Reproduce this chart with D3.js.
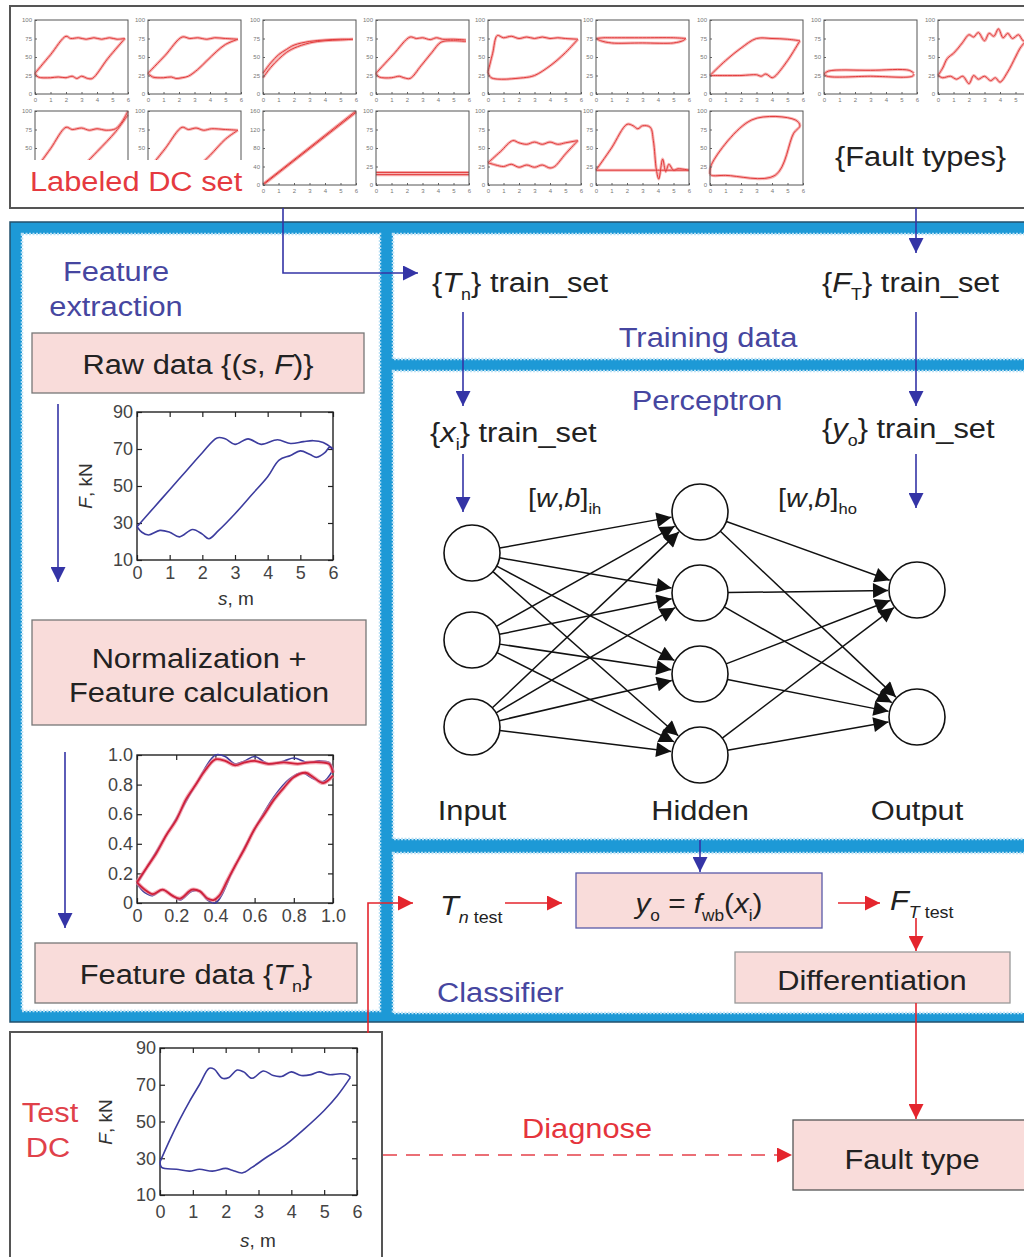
<!DOCTYPE html>
<html>
<head>
<meta charset="utf-8">
<script src="https://cdn.jsdelivr.net/npm/d3@7"></script>
<style>
  body { margin: 0; background: #fff; }
  svg { display: block; font-family: "Liberation Sans", Arial, sans-serif; }
</style>
</head>
<body>
<svg id="chart" width="1024" height="1257"></svg>
<script>
// ---- data ----
// raw drilling cycle (s in m, F in kN)
var rawUpper = [[0,28],[0.5,38],[1,48],[1.5,58],[2,68],[2.45,76],[2.7,75.5],[3,72.5],[3.4,75.5],[3.8,72.5],[4.3,75],[4.7,73],[5.1,74],[5.4,74.5],[5.7,73.5],[6,70]];
var rawLower = [[0,28],[0.15,25],[0.35,23.5],[0.7,26],[1,25],[1.3,22.5],[1.7,26.5],[2,24],[2.2,21.5],[2.5,26],[3,35],[3.5,45],[4,55],[4.35,64],[4.7,66.5],[5,69],[5.3,67],[5.5,65.5],[5.75,68],[5.9,71],[6,70]];

// normalized cycle (blue) and feature fit (red)
var normBlueUpper = [[0,0.13],[0.1,0.35],[0.2,0.57],[0.3,0.8],[0.4,1.0],[0.45,0.99],[0.5,0.94],[0.55,0.96],[0.6,0.99],[0.67,0.94],[0.75,0.96],[0.8,0.98],[0.87,0.95],[0.93,0.96],[0.98,0.95],[1,0.9]];
var normBlueLower = [[0,0.13],[0.04,0.07],[0.08,0.05],[0.13,0.09],[0.18,0.05],[0.22,0.02],[0.28,0.08],[0.32,0.08],[0.36,0.02],[0.4,0],[0.5,0.25],[0.6,0.5],[0.7,0.72],[0.78,0.84],[0.84,0.88],[0.9,0.84],[0.95,0.82],[1,0.9]];
var normRedUpper = [[0,0.14],[0.05,0.24],[0.1,0.34],[0.15,0.46],[0.2,0.56],[0.25,0.7],[0.3,0.8],[0.35,0.9],[0.4,0.97],[0.45,0.96],[0.5,0.93],[0.55,0.95],[0.6,0.96],[0.67,0.94],[0.75,0.95],[0.82,0.94],[0.88,0.95],[0.94,0.95],[0.98,0.94],[1,0.88]];
var normRedLower = [[0,0.14],[0.04,0.09],[0.08,0.06],[0.13,0.09],[0.18,0.05],[0.22,0.03],[0.28,0.09],[0.32,0.08],[0.36,0.03],[0.39,0.02],[0.42,0.05],[0.46,0.15],[0.5,0.25],[0.55,0.37],[0.6,0.5],[0.65,0.6],[0.7,0.7],[0.75,0.78],[0.8,0.85],[0.86,0.88],[0.9,0.85],[0.95,0.81],[1,0.86]];

// test drilling cycle
var testUpper = [[0,28],[0.3,40],[0.6,51],[0.9,61],[1.2,70],[1.5,79],[1.65,78.5],[1.9,73.5],[2.1,74],[2.35,78],[2.55,77],[2.8,73.5],[3.15,77.5],[3.45,75],[3.7,74.5],[4,77],[4.3,75],[4.6,75.5],[4.85,77],[5.15,75.5],[5.5,76],[5.7,75.5],[5.8,74]];
var testLower = [[0,28],[0.05,25],[0.5,24],[0.9,23],[1.2,24],[1.6,23],[2,24.5],[2.2,23.5],[2.5,22],[2.8,25],[3.2,30],[3.8,37],[4.4,46],[5,56],[5.4,64],[5.8,74]];

// labeled DC set thumbnails, each a list of branches
var dcA1 = [[[0,28],[1,53],[2,78],[2.3,75],[2.8,76],[3.3,74],[3.8,76],[4.3,74],[4.8,76],[5.3,74],[5.8,75]], [[0,28],[0.2,23],[1,22],[1.5,23],[2,22],[2.4,24],[2.7,21],[3,24],[3.4,21],[3.7,21],[4.7,48],[5.8,75]]];
var dcA2 = [[[0,28],[1.1,52],[2.2,77],[2.7,75],[3.2,76],[3.8,74],[4.3,76],[5,75],[5.8,74]], [[0,28],[0.3,23],[1,22],[1.5,23],[1.8,21],[2.2,22],[2.6,24],[3.2,33],[3.8,45],[4.4,57],[5,67],[5.8,74]]];
var dcA3 = [[[0,28],[0.5,42],[1,53],[1.5,60],[2,66],[3,71],[4,73],[5,74],[5.8,74]], [[0,22],[0.5,36],[1,47],[1.5,56],[2,62],[3,69],[4,72],[5,73],[5.8,74]]];
var dcA4 = [[[0,28],[1.1,53],[2.2,77],[2.6,75],[3,76],[3.5,73.5],[3.9,76],[4.3,74],[5,74],[5.8,73]], [[0,28],[0.2,23],[1,22],[1.5,24],[1.8,22],[2.2,21],[2.9,38],[3.6,56],[4.2,70],[5,72],[5.8,71]]];
var dcA5 = [[[0,30],[0.3,55],[0.6,79],[1,76],[1.5,78],[2,75],[2.5,77],[3,75],[3.5,77],[4,75],[4.5,76],[5,75],[5.8,74]], [[0,30],[0.2,22],[2.3,22],[3,25],[4,38],[5,56],[5.8,74]]];
var dcA6 = [[[0,75],[0.5,76],[1,76],[3,76],[5,76],[5.8,75]], [[0,75],[0.3,72],[1,69],[3,69],[5,69],[5.6,72],[5.8,75]]];
var dcA7 = [[[0,25],[1,45],[2,62],[3,75],[4,75],[5,74],[5.8,72]], [[0,25],[2,25],[3,26],[3.3,24],[3.6,27],[4,22],[4.2,24],[5,45],[5.8,72]]];
var dcA8 = [[[0,27],[0.3,31],[3,32],[5.5,32],[5.8,28]], [[0,27],[0.2,24],[3,24],[5.7,24],[5.8,27]]];
var dcA9 = [[[0,25],[0.3,35],[0.6,48],[1,55],[1.3,62],[1.6,70],[2,80],[2.3,77],[2.6,83],[3,72],[3.3,82],[3.6,78],[3.9,88],[4.2,76],[4.5,82],[4.8,75],[5.2,80],[5.5,72],[5.8,75]], [[0,25],[0.3,22],[0.8,24],[1.2,20],[1.6,24],[2,14],[2.3,25],[2.6,20],[3,24],[3.4,18],[3.7,22],[4,16],[4.5,30],[5,50],[5.3,62],[5.8,75]]];
var dcB1 = [[[0,20],[1,49],[2,78],[2.4,75],[3,77],[3.5,74],[4,76],[4.6,74],[5.2,76],[5.6,85],[6,100]], [[2.6,15],[4,45],[5.2,72],[6,95]]];
var dcB2 = [[[0,20],[1.1,49],[2.2,78],[2.6,75],[3.1,77],[3.6,74],[4.1,76],[5,75],[5.8,74]], [[3,20],[4,40],[5,62],[5.8,74]]];
var dcB3 = [[[0,2],[6,160]], [[0,0],[6,157]]];
var dcB4 = [[[0,17],[6,17]], [[0,14],[6,14]]];
var dcB5 = [[[0,30],[0.8,45],[1.6,60],[2,57],[2.5,55],[3,58],[3.5,55],[4,58],[4.5,55],[5,57],[5.8,60]], [[0,30],[0.5,27],[1,25],[1.5,28],[2,24],[2.5,27],[3,24],[3.5,27],[4,23],[4.3,25],[5,42],[5.8,60]]];
var dcB6 = [[[0,20],[1,50],[2,82],[2.4,80],[2.7,76],[3,80],[3.5,78],[3.7,60],[3.9,20],[4.05,8],[4.3,35],[4.5,18],[4.7,28],[5,20],[5.3,22],[6,20]], [[0,20],[6,20]]];
var dcB7 = [[[0,15],[0.1,28],[2.7,88],[5.5,88],[5.8,80],[5.4,70],[4.2,13],[1,13],[0.1,13],[0,15]]];

var thumbTicksX = [0, 1, 2, 3, 4, 5, 6];
var thumbTicksY = [0, 25, 50, 75, 100];
var thumbTicksYBig = [0, 40, 80, 120, 160];
var forceTicks = [10, 30, 50, 70, 90];
var distTicks = [0, 1, 2, 3, 4, 5, 6];
var normTicks = [0, 0.2, 0.4, 0.6, 0.8, 1.0];

var hiddenNodes = [0, 1, 2, 3];
var inputNodes = [0, 1, 2];
var outputNodes = [0, 1];

// ---- colours ----
var frameBlue = '#1d99d6';
var navy = '#4646a0';
var arrowBlue = '#3434a6';
var red = '#e4252d';
var pink = '#f9dcda';
var curveBlue = '#3c3c9e';
var SX = 1.1; // the figure's lettering is a bit wide

var svg = d3.select('#chart');
var defs = svg.append('defs');

function marker(id, color, w, l) {
  defs.append('marker')
    .attr('id', id)
    .attr('viewBox', '0 0 10 10')
    .attr('refX', 10).attr('refY', 5)
    .attr('markerWidth', l).attr('markerHeight', w)
    .attr('markerUnits', 'userSpaceOnUse')
    .attr('orient', 'auto')
    .append('path').attr('d', 'M0,0L10,5L0,10Z').attr('fill', color);
}
marker('ab', arrowBlue, 15, 17);
marker('ar', red, 15, 17);
marker('ak', '#111', 15, 22);

// rich text: parts are [text, flags] with i = italic, s = subscript
function rich(t, parts, fs) {
  var sub = false;
  parts.forEach(function (p) {
    var f = p[1] || '';
    var span = t.append('tspan').text(p[0]);
    if (f.indexOf('i') >= 0) span.attr('font-style', 'italic');
    var isSub = f.indexOf('s') >= 0;
    if (isSub && !sub) span.attr('dy', fs * 0.28);
    if (!isSub && sub) span.attr('dy', -fs * 0.28);
    if (isSub) span.attr('font-size', fs * 0.58);
    sub = isSub;
  });
  return t;
}

function label(x, y, parts, fs, color, anchor) {
  var t = svg.append('text')
    .attr('transform', 'translate(' + x + ',' + y + ') scale(' + SX + ',1)')
    .attr('font-size', fs)
    .attr('fill', color || '#222')
    .attr('text-anchor', anchor || 'start');
  if (typeof parts === 'string') return t.text(parts);
  return rich(t, parts, fs);
}

function arrow(points, color, mk, dash) {
  svg.append('path')
    .attr('d', d3.line()(points))
    .attr('fill', 'none')
    .attr('stroke', color)
    .attr('stroke-width', 1.6)
    .attr('stroke-dasharray', dash || null)
    .attr('marker-end', 'url(#' + mk + ')');
}

// ---- top box: labeled DC set ----
svg.append('rect').attr('x', 10).attr('y', 6).attr('width', 1040).attr('height', 202)
  .attr('fill', '#fff').attr('stroke', '#555').attr('stroke-width', 2);

var thumbs = [
  { d: dcA1, x: 35, y: 20 }, { d: dcA2, x: 148, y: 20 }, { d: dcA3, x: 263, y: 20 },
  { d: dcA4, x: 376, y: 20 }, { d: dcA5, x: 488, y: 20 }, { d: dcA6, x: 596, y: 20 },
  { d: dcA7, x: 710, y: 20 }, { d: dcA8, x: 824, y: 20 }, { d: dcA9, x: 938, y: 20 },
  { d: dcB1, x: 35, y: 111, hidden: true }, { d: dcB2, x: 148, y: 111, hidden: true },
  { d: dcB3, x: 263, y: 111, big: true },
  { d: dcB4, x: 376, y: 111 }, { d: dcB5, x: 488, y: 111 }, { d: dcB6, x: 596, y: 111 },
  { d: dcB7, x: 710, y: 111 }
];

thumbs.forEach(function (th) {
  var w = 93, h = 74;
  var g = svg.append('g').attr('transform', 'translate(' + th.x + ',' + th.y + ')');
  var x = d3.scaleLinear().domain([0, 6]).range([0, w]);
  var y = d3.scaleLinear().domain(th.big ? [0, 160] : [0, 100]).range([h, 0]);
  var line = d3.line().x(function (d) { return x(d[0]); }).y(function (d) { return y(d[1]); })
    .curve(d3.curveCatmullRom.alpha(0.5));
  g.append('rect').attr('width', w).attr('height', h).attr('fill', '#fff');
  th.d.forEach(function (br) {
    g.append('path').attr('d', line(br)).attr('fill', 'none')
      .attr('stroke', '#f6b3b3').attr('stroke-width', 3);
  });
  th.d.forEach(function (br) {
    g.append('path').attr('d', line(br)).attr('fill', 'none')
      .attr('stroke', '#e23a3a').attr('stroke-width', 1);
  });
  // labels that fall under the caption or off the page are left out
  var xt = th.hidden ? [] : thumbTicksX.filter(function (v) { return th.x + x(v) < 1018; });
  var yt = (th.big ? thumbTicksYBig : thumbTicksY).filter(function (v) {
    return !th.hidden || th.y + y(v) < 150;
  });
  var ax = g.append('g').attr('transform', 'translate(0,' + h + ')')
    .call(d3.axisBottom(x).tickValues(xt).tickFormat(d3.format('d')).tickSize(-2).tickSizeOuter(0).tickPadding(4));
  var ay = g.append('g')
    .call(d3.axisLeft(y).tickValues(yt).tickFormat(d3.format('d')).tickSize(-2).tickSizeOuter(0).tickPadding(3));
  [ax, ay].forEach(function (a) {
    a.selectAll('text').attr('font-size', 6).attr('fill', '#777');
    a.selectAll('line').attr('stroke', '#666');
    a.select('.domain').remove();
  });
  g.append('rect').attr('width', w).attr('height', h).attr('fill', 'none')
    .attr('stroke', '#555').attr('stroke-width', 1);
});

svg.append('rect').attr('x', 22).attr('y', 160).attr('width', 224).attr('height', 44).attr('fill', '#fff');
label(30, 191, 'Labeled DC set', 28, '#e53a40');
label(835, 166, '{Fault types}', 28, '#222');

// ---- blue frame and panels ----
svg.append('rect').attr('x', 10).attr('y', 222).attr('width', 1040).attr('height', 800)
  .attr('fill', frameBlue).attr('stroke', '#23506c').attr('stroke-width', 1.5);
var panels = [
  [22, 234, 358, 777],
  [393, 234, 660, 125],
  [393, 371, 660, 468],
  [393, 853, 660, 160]
];
panels.forEach(function (p) {
  svg.append('rect').attr('x', p[0]).attr('y', p[1]).attr('width', p[2]).attr('height', p[3])
    .attr('fill', '#fff').attr('stroke', '#b9e0f4').attr('stroke-width', 2.5)
    .attr('stroke-dasharray', '2,1.5');
});

// ---- feature extraction panel ----
label(116, 281, 'Feature', 28, navy, 'middle');
label(116, 316, 'extraction', 28, navy, 'middle');

function box(x, y, w, h, stroke) {
  svg.append('rect').attr('x', x).attr('y', y).attr('width', w).attr('height', h)
    .attr('fill', pink).attr('stroke', stroke || '#777').attr('stroke-width', 1.3);
}
box(32, 333, 332, 60);
label(198, 374, [['Raw data {('], ['s', 'i'], [', '], ['F', 'i'], [')}']], 28, '#222', 'middle');
box(32, 620, 334, 105);
label(199, 668, 'Normalization +', 28, '#222', 'middle');
label(199, 702, 'Feature calculation', 28, '#222', 'middle');
box(35, 943, 322, 60);
label(196, 984, [['Feature data {'], ['T', 'i'], ['n', 's'], ['}']], 28, '#222', 'middle');

arrow([[58, 404], [58, 582]], arrowBlue, 'ab');
arrow([[65, 752], [65, 928]], arrowBlue, 'ab');

// framed plot helper
function framedPlot(opt) {
  var g = svg.append('g');
  var x = d3.scaleLinear().domain(opt.xd).range([opt.x0, opt.x1]);
  var y = d3.scaleLinear().domain(opt.yd).range([opt.y1, opt.y0]);
  var fmt = opt.fmt || function (d) { return d; };
  var styleAxis = function (a) {
    a.select('.domain').remove();
    a.selectAll('line').attr('stroke', '#222').attr('stroke-width', 1.2);
    a.selectAll('text').attr('font-size', 18).attr('fill', '#444')
      .attr('font-family', '"Liberation Sans", Arial, sans-serif');
  };
  g.append('g').attr('transform', 'translate(0,' + opt.y1 + ')')
    .call(d3.axisBottom(x).tickValues(opt.xt).tickFormat(fmt).tickSize(-5).tickSizeOuter(0).tickPadding(opt.xPad || 6))
    .call(styleAxis);
  g.append('g').attr('transform', 'translate(' + opt.x0 + ',0)')
    .call(d3.axisLeft(y).tickValues(opt.yt).tickFormat(fmt).tickSize(-5).tickSizeOuter(0).tickPadding(4))
    .call(styleAxis);
  g.append('g').attr('transform', 'translate(0,' + opt.y0 + ')')
    .call(d3.axisTop(x).tickValues(opt.xt).tickFormat('').tickSize(-5).tickSizeOuter(0))
    .call(styleAxis);
  g.append('g').attr('transform', 'translate(' + opt.x1 + ',0)')
    .call(d3.axisRight(y).tickValues(opt.yt).tickFormat('').tickSize(-5).tickSizeOuter(0))
    .call(styleAxis);
  g.append('rect').attr('x', opt.x0).attr('y', opt.y0)
    .attr('width', opt.x1 - opt.x0).attr('height', opt.y1 - opt.y0)
    .attr('fill', 'none').attr('stroke', '#222').attr('stroke-width', 1.4);
  var line = d3.line().x(function (d) { return x(d[0]); }).y(function (d) { return y(d[1]); })
    .curve(d3.curveCatmullRom.alpha(0.5));
  opt.series.forEach(function (s) {
    g.append('path').attr('d', line(s.d)).attr('fill', 'none')
      .attr('stroke', s.c).attr('stroke-width', s.w).attr('stroke-opacity', s.o || 1);
  });
  if (opt.yLabel) {
    var t = g.append('text').attr('transform', 'translate(' + opt.yLabel[0] + ',' + opt.yLabel[1] + ') rotate(-90)')
      .attr('text-anchor', 'middle').attr('font-size', 19).attr('fill', '#333');
    rich(t, [['F', 'i'], [', kN']], 19);
  }
  if (opt.xLabel) {
    var t2 = g.append('text').attr('x', opt.xLabel[0]).attr('y', opt.xLabel[1])
      .attr('text-anchor', 'middle').attr('font-size', 19).attr('fill', '#333');
    rich(t2, [['s', 'i'], [', m']], 19);
  }
}

framedPlot({
  x0: 137, x1: 333, y0: 412, y1: 560, xd: [0, 6], yd: [10, 90],
  xt: distTicks, yt: forceTicks,
  series: [{ d: rawUpper, c: curveBlue, w: 1.6 }, { d: rawLower, c: curveBlue, w: 1.6 }],
  yLabel: [92, 486], xLabel: [236, 605]
});

framedPlot({
  x0: 137, x1: 333, y0: 755, y1: 903, xd: [0, 1], yd: [0, 1],
  xt: normTicks, yt: normTicks,
  fmt: function (d) { return d === 0 ? '0' : d3.format('.1f')(d); },
  series: [
    { d: normBlueUpper, c: curveBlue, w: 1.6 }, { d: normBlueLower, c: curveBlue, w: 1.6 },
    { d: normRedUpper, c: '#f08a9a', w: 4, o: 0.7 }, { d: normRedLower, c: '#f08a9a', w: 4, o: 0.7 },
    { d: normRedUpper, c: '#d0203a', w: 1.8 }, { d: normRedLower, c: '#d0203a', w: 1.8 }
  ]
});

// ---- training data panel ----
arrow([[283, 208], [283, 273], [418, 273]], arrowBlue, 'ab');
arrow([[916, 208], [916, 253]], arrowBlue, 'ab');
label(432, 292, [['{'], ['T', 'i'], ['n', 's'], ['} train_set']], 28);
label(822, 292, [['{'], ['F', 'i'], ['T', 's'], ['} train_set']], 28);
label(708, 347, 'Training data', 28, navy, 'middle');
arrow([[463, 312], [463, 406]], arrowBlue, 'ab');
arrow([[916, 312], [916, 406]], arrowBlue, 'ab');

// ---- perceptron panel ----
label(707, 410, 'Perceptron', 28, navy, 'middle');
label(430, 442, [['{'], ['x', 'i'], ['i', 's'], ['} train_set']], 28);
label(822, 438, [['{'], ['y', 'i'], ['o', 's'], ['} train_set']], 28);
arrow([[463, 454], [463, 512]], arrowBlue, 'ab');
arrow([[916, 454], [916, 508]], arrowBlue, 'ab');
label(528, 507, [['['], ['w', 'i'], [','], ['b', 'i'], [']'], ['ih', 's']], 26);
label(778, 507, [['['], ['w', 'i'], [','], ['b', 'i'], [']'], ['ho', 's']], 26);

var r = 28;
var yIn = d3.scalePoint().domain(inputNodes).range([553, 727]);
var yHid = d3.scalePoint().domain(hiddenNodes).range([512, 755]);
var yOut = d3.scalePoint().domain(outputNodes).range([590, 717]);
var xIn = 472, xHid = 700, xOut = 917;

function edge(x1, y1, x2, y2) {
  var dx = x2 - x1, dy = y2 - y1, L = Math.sqrt(dx * dx + dy * dy);
  var ux = dx / L, uy = dy / L;
  svg.append('line')
    .attr('x1', x1 + ux * r).attr('y1', y1 + uy * r)
    .attr('x2', x2 - ux * (r + 1)).attr('y2', y2 - uy * (r + 1))
    .attr('stroke', '#111').attr('stroke-width', 1.5)
    .attr('marker-end', 'url(#ak)');
}
inputNodes.forEach(function (i) {
  hiddenNodes.forEach(function (h) { edge(xIn, yIn(i), xHid, yHid(h)); });
});
hiddenNodes.forEach(function (h) {
  outputNodes.forEach(function (o) { edge(xHid, yHid(h), xOut, yOut(o)); });
});
function nodes(list, cx, sc) {
  svg.selectAll(null).data(list).enter().append('circle')
    .attr('cx', cx).attr('cy', function (d) { return sc(d); }).attr('r', r)
    .attr('fill', '#fff').attr('stroke', '#111').attr('stroke-width', 1.6);
}
nodes(inputNodes, xIn, yIn);
nodes(hiddenNodes, xHid, yHid);
nodes(outputNodes, xOut, yOut);

label(472, 820, 'Input', 28, '#222', 'middle');
label(700, 820, 'Hidden', 28, '#222', 'middle');
label(917, 820, 'Output', 28, '#222', 'middle');

// ---- classifier panel ----
arrow([[700, 840], [700, 872]], arrowBlue, 'ab');
label(440, 915, [['T', 'i'], ['n', 'si'], [' test', 's']], 28);
arrow([[505, 903], [562, 903]], red, 'ar');
box(576, 873, 246, 55, '#5a5aa8');
label(699, 913, [['y', 'i'], ['o', 's'], [' = '], ['f', 'i'], ['wb', 's'], ['('], ['x', 'i'], ['i', 's'], [')']], 27, '#222', 'middle');
arrow([[838, 903], [880, 903]], red, 'ar');
label(890, 910, [['F', 'i'], ['T', 'si'], [' test', 's']], 28);
arrow([[916, 918], [916, 951]], red, 'ar');
box(735, 952, 275, 51, '#999');
label(872, 990, 'Differentiation', 28, '#222', 'middle');
label(437, 1002, 'Classifier', 28, navy);

// ---- test DC and diagnosis ----
svg.append('rect').attr('x', 10).attr('y', 1032).attr('width', 372).attr('height', 240)
  .attr('fill', '#fff').attr('stroke', '#555').attr('stroke-width', 2);
label(50, 1122, 'Test', 28, '#e0414a', 'middle');
label(48, 1157, 'DC', 28, '#e0414a', 'middle');
framedPlot({
  x0: 160, x1: 357, y0: 1048, y1: 1195, xd: [0, 6], yd: [10, 90],
  xt: distTicks, yt: forceTicks, xPad: 10,
  series: [{ d: testUpper, c: curveBlue, w: 1.6 }, { d: testLower, c: curveBlue, w: 1.6 }],
  yLabel: [112, 1122], xLabel: [258, 1247]
});

arrow([[368, 1033], [368, 903], [413, 903]], red, 'ar');
arrow([[916, 1003], [916, 1119]], red, 'ar');
arrow([[383, 1155], [792, 1155]], '#e5404a', 'ar', '14,9');
label(587, 1138, 'Diagnose', 28, '#e5343c', 'middle');
box(793, 1120, 250, 70, '#555');
label(912, 1169, 'Fault type', 28, '#222', 'middle');
</script>
</body>
</html>
